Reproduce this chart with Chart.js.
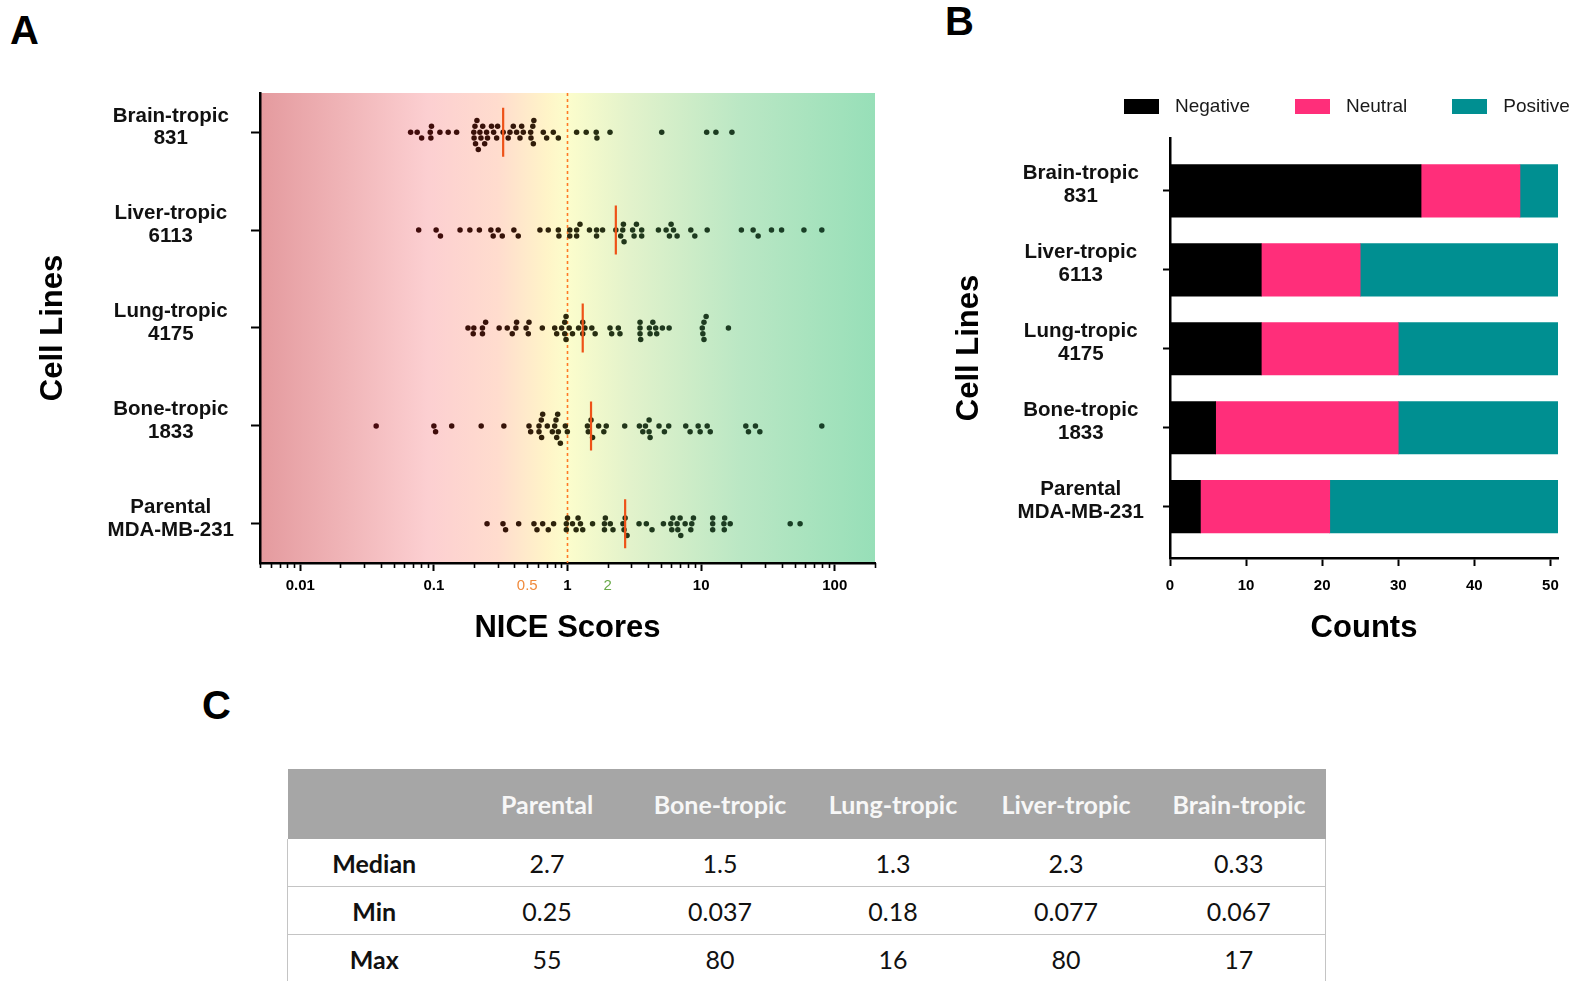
<!DOCTYPE html>
<html>
<head>
<meta charset="utf-8">
<title>NICE scores by cell line</title>
<script src="https://cdn.jsdelivr.net/npm/chart.js@4.4.1/dist/chart.umd.min.js"></script>
<style>
  html, body { margin: 0; padding: 0; background: #fff; width: 1585px; height: 981px; overflow: hidden;
    font-family: "Liberation Sans", Arial, sans-serif; }
  .panel-letter { position: absolute; font-weight: bold; font-size: 40px; line-height: 40px; color: #000; }
  #chartA { position: absolute; left: 0; top: 0; }
  #chartB { position: absolute; left: 900px; top: 0; }
  #legendB { position: absolute; left: 1124px; top: 95px; display: flex; align-items: center;
    font-size: 19px; color: #1a1a1a; white-space: nowrap; }
  .lg-item { display: flex; align-items: center; margin-right: 45px; }
  .lg-box { width: 35px; height: 15px; margin-right: 16px; }
  #tableC { position: absolute; left: 287px; top: 769px; width: 1039px; border-collapse: collapse;
    table-layout: fixed; font-family: Lato, "Open Sans", sans-serif; }
  #tableC th { background: #a6a6a6; color: #f7f7f7; font-weight: 700; font-size: 25px; height: 70px;
    padding: 0; text-align: center; }
  #tableC td { height: 47px; font-size: 25px; text-align: center; padding: 0; color: #111;
    border-bottom: 1px solid #c4c4c4; }
  #tableC td.rowhead { font-weight: 700; }
  #tableC tbody td:first-child { border-left: 1px solid #c4c4c4; }
  #tableC tbody td:last-child { border-right: 1px solid #c4c4c4; }
</style>
</head>
<body>
<div class="panel-letter" style="left:10px;top:10px;">A</div>
<div class="panel-letter" style="left:945px;top:1px;">B</div>
<div class="panel-letter" style="left:202px;top:685px;">C</div>

<canvas id="chartA" width="900" height="660"></canvas>
<canvas id="chartB" width="685" height="660"></canvas>
<div id="legendB"></div>
<table id="tableC"><thead><tr id="tableHead"></tr></thead><tbody id="tableBody"></tbody></table>

<script>
// Cell lines, in table order (Parental first); the charts list them bottom to top.
const cellLines = ['Parental', 'Bone-tropic', 'Lung-tropic', 'Liver-tropic', 'Brain-tropic'];
const axisLabels = [
  ['Parental', 'MDA-MB-231'],
  ['Bone-tropic', '1833'],
  ['Lung-tropic', '4175'],
  ['Liver-tropic', '6113'],
  ['Brain-tropic', '831']
];

// NICE scores per cell line
const scoresParental = [0.25, 0.329, 0.344, 0.431, 0.561, 0.591, 0.652, 0.718, 0.787, 0.98, 0.98, 1.00, 1.09,
  1.16, 1.20, 1.25, 1.30, 1.54, 1.89, 1.89, 1.92, 2.09, 2.19, 2.60, 2.65, 2.7, 2.79, 3.43, 3.89, 4.29, 5.22,
  5.93, 6.03, 6.14, 6.61, 6.69, 6.96, 7.04, 7.59, 8.37, 8.51, 8.76, 12.2, 12.2, 12.2, 14.8, 14.9, 15.0, 16.5,
  46.4, 55];
const scoresBone = [0.037, 0.100, 0.103, 0.136, 0.226, 0.334, 0.515, 0.530, 0.612, 0.612, 0.637, 0.640, 0.652,
  0.706, 0.770, 0.802, 0.820, 0.830, 0.844, 0.854, 0.884, 0.963, 0.997, 1.41, 1.43, 1.5, 1.54, 1.71, 1.87, 1.95,
  2.68, 3.45, 3.66, 3.83, 4.08, 4.08, 4.15, 4.84, 5.31, 5.72, 7.67, 8.27, 9.50, 9.83, 11.1, 11.7, 21.6, 22.6,
  25.5, 27.5, 80];
const scoresLung = [0.18, 0.197, 0.199, 0.231, 0.231, 0.244, 0.308, 0.354, 0.386, 0.411, 0.416, 0.49, 0.509,
  0.515, 0.648, 0.802, 0.830, 0.904, 0.953, 0.953, 0.975, 0.975, 1.03, 1.09, 1.21, 1.3, 1.3, 1.35, 1.52, 1.61,
  2.08, 2.14, 2.40, 2.47, 3.49, 3.49, 3.49, 3.53, 4.10, 4.15, 4.35, 4.57, 4.65, 5.13, 5.76, 10.2, 10.3, 10.5,
  10.5, 10.9, 16];
const scoresLiver = [0.077, 0.104, 0.112, 0.157, 0.186, 0.219, 0.267, 0.278, 0.303, 0.325, 0.397, 0.428, 0.622,
  0.718, 0.854, 0.863, 1.04, 1.04, 1.17, 1.17, 1.24, 1.46, 1.65, 1.65, 1.83, 2.3, 2.50, 2.59, 2.62, 2.65, 3.07,
  3.15, 3.28, 3.59, 3.59, 4.79, 5.47, 5.79, 5.96, 6.21, 6.61, 8.37, 8.97, 11.1, 20.0, 24.5, 26.7, 33.6, 40.0,
  58.8, 80];
const scoresBrain = [0.067, 0.075, 0.081, 0.094, 0.095, 0.096, 0.111, 0.128, 0.148, 0.199, 0.200, 0.203, 0.205,
  0.21, 0.215, 0.221, 0.225, 0.232, 0.24, 0.248, 0.252, 0.27, 0.28, 0.295, 0.300, 0.33, 0.36, 0.371, 0.393,
  0.416, 0.441, 0.454, 0.467, 0.530, 0.533, 0.550, 0.555, 0.560, 0.659, 0.698, 0.783, 0.854, 1.17, 1.38, 1.64,
  1.66, 2.08, 5.07, 11.0, 12.9, 17];

// Summary statistics (table order)
const medianScores = [2.7, 1.5, 1.3, 2.3, 0.33];
const minScores = [0.25, 0.037, 0.18, 0.077, 0.067];
const maxScores = [55, 80, 16, 80, 17];

// Counts per class (table order)
const countCategories = ['Negative', 'Neutral', 'Positive'];
const negativeCounts = [4, 6, 12, 12, 33];
const neutralCounts = [17, 24, 18, 13, 13];
const positiveCounts = [30, 21, 21, 26, 5];

// Axis ticks
const decadeTicks = [0.01, 0.1, 1, 10, 100];
const thresholdTicks = [0.5, 2];
const countTicks = [0, 10, 20, 30, 40, 50];
const baselineScore = 1;

const allScores = [scoresParental, scoresBone, scoresLung, scoresLiver, scoresBrain];
const rowOf = i => cellLines.length - 1 - i;   // Brain-tropic on top
const rowIndices = cellLines.map((_, i) => i);

Chart.defaults.font.family = '"Liberation Sans", Arial, sans-serif';
Chart.defaults.color = '#000';

const black = '#000';
const isDecade = v => decadeTicks.some(d => Math.abs(d - v) < d * 1e-6);
const isThreshold = v => thresholdTicks.some(d => Math.abs(d - v) < d * 1e-6);

function logTickValues(min, max) {
  const out = [];
  for (let e = -3; e <= 3; e++) {
    for (let n = 1; n <= 9; n++) {
      const v = Number((n * Math.pow(10, e)).toPrecision(2));
      if (v >= min * 0.9999 && v <= max * 1.0001) out.push(v);
    }
  }
  return out;
}

// dark dot colour shifting from maroon (low scores) to green (high scores)
function dotColor(v) {
  const t = Math.log10(v);
  const stops = [[-1.5, [74, 8, 14]], [-0.5, [54, 18, 8]], [0, [44, 40, 12]], [0.5, [32, 56, 28]], [2.2, [22, 66, 42]]];
  if (t <= stops[0][0]) return 'rgb(' + stops[0][1].join(',') + ')';
  for (let k = 1; k < stops.length; k++) {
    if (t <= stops[k][0]) {
      const f = (t - stops[k - 1][0]) / (stops[k][0] - stops[k - 1][0]);
      const c = stops[k - 1][1].map((a, j) => Math.round(a + (stops[k][1][j] - a) * f));
      return 'rgb(' + c.join(',') + ')';
    }
  }
  return 'rgb(' + stops[stops.length - 1][1].join(',') + ')';
}

// red → yellow → green wash behind the score axis
const gradientBackdrop = {
  id: 'gradientBackdrop',
  beforeDraw(chart) {
    const { ctx, chartArea: a, scales: { x } } = chart;
    const g = ctx.createLinearGradient(a.left, 0, a.right, 0);
    const stops = [[0.005, '#e49a9e'], [0.09, '#fccfd1'], [0.3, '#ffdcce'], [0.7, '#fff4c8'],
      [1, '#fcfdcc'], [3, '#e2f2cb'], [20, '#bae7c4'], [200, '#97dfb8']];
    stops.forEach(([v, c]) => {
      const f = (x.getPixelForValue(v) - a.left) / (a.right - a.left);
      g.addColorStop(Math.min(1, Math.max(0, f)), c);
    });
    ctx.save();
    ctx.fillStyle = g;
    ctx.fillRect(a.left, a.top, a.right - a.left, a.bottom - a.top);
    ctx.restore();
  }
};

// shorter marks for the non-decade ticks of the log axis
const minorTickMarks = {
  id: 'minorTickMarks',
  afterDraw(chart) {
    const x = chart.scales.x;
    const ctx = chart.ctx;
    ctx.save();
    ctx.strokeStyle = black;
    ctx.lineWidth = 1.6;
    x.ticks.forEach(t => {
      if (isDecade(t.value)) return;
      const px = Math.round(x.getPixelForValue(t.value)) + 0.5;
      ctx.beginPath();
      ctx.moveTo(px, x.top);
      ctx.lineTo(px, x.top + 5);
      ctx.stroke();
    });
    ctx.restore();
  }
};

const scoreMin = 0.005, scoreMax = 200;

const swarmSets = allScores.map((arr, i) => ({
  label: cellLines[i],
  data: arr.map(v => ({ x: v, y: rowOf(i) })),
  pointRadius: 2.75,
  pointHoverRadius: 2.75,
  borderWidth: 0,
  pointBorderWidth: 0,
  pointBackgroundColor: ctx => dotColor(ctx.raw ? ctx.raw.x : 1),
  order: 2
}));

const medianSets = medianScores.map((m, i) => ({
  label: cellLines[i] + ' median',
  data: [{ x: m, y: rowOf(i) - 0.25 }, { x: m, y: rowOf(i) + 0.25 }],
  showLine: true,
  borderColor: '#ee5218',
  borderWidth: 2.2,
  pointRadius: 0,
  order: 0
}));

const baselineSet = {
  label: 'baseline',
  data: [{ x: baselineScore, y: -0.4 }, { x: baselineScore, y: 4.4 }],
  showLine: true,
  borderColor: '#ff7a26',
  borderWidth: 1.6,
  borderDash: [3, 3],
  pointRadius: 0,
  order: 3
};

const chartA = new Chart(document.getElementById('chartA'), {
  type: 'scatter',
  data: { datasets: [baselineSet, ...swarmSets, ...medianSets] },
  plugins: [gradientBackdrop, minorTickMarks],
  options: {
    responsive: false,
    animation: false,
    events: [],
    layout: { padding: { left: 0, top: 93, right: 25, bottom: 0 } },
    plugins: { legend: { display: false }, tooltip: { enabled: false } },
    scales: {
      x: {
        type: 'logarithmic',
        min: scoreMin,
        max: scoreMax,
        afterBuildTicks: s => { s.ticks = logTickValues(scoreMin, scoreMax).map(v => ({ value: v })); },
        afterFit: s => { s.height = 97; },
        border: { display: true, color: black, width: 2.5 },
        grid: {
          display: true, drawOnChartArea: false, tickLength: 8, tickWidth: 2,
          tickColor: c => (c.tick && isDecade(c.tick.value)) ? black : 'rgba(0,0,0,0)'
        },
        ticks: {
          autoSkip: false, maxRotation: 0, minRotation: 0, padding: 6,
          callback: v => (isDecade(v) || isThreshold(v)) ? String(v) : '',
          color: c => !c.tick ? black : (Math.abs(c.tick.value - 0.5) < 1e-9 ? '#f08a3c'
            : (Math.abs(c.tick.value - 2) < 1e-9 ? '#6aaa4a' : black)),
          font: c => (c.tick && isThreshold(c.tick.value)) ? { size: 15, weight: 'normal' } : { size: 15, weight: 'bold' }
        },
        title: {
          display: true, text: 'NICE Scores', color: black,
          font: { size: 31, weight: 'bold' }, padding: { top: 0, bottom: 13 }
        }
      },
      y: {
        type: 'linear',
        min: -0.4,
        max: 4.4,
        reverse: true,
        offset: false,
        afterBuildTicks: s => { s.ticks = rowIndices.map(r => ({ value: r })); },
        afterFit: s => { s.width = 260; },
        border: { display: true, color: black, width: 2.5 },
        grid: { display: true, offset: false, drawOnChartArea: false, tickLength: 9, tickWidth: 2, tickColor: black },
        ticks: {
          autoSkip: false, crossAlign: 'center', padding: 17, labelOffset: -5,
          callback: v => axisLabels[cellLines.length - 1 - v],
          font: { size: 20.5, weight: 'bold', lineHeight: 1.1 },
          color: '#111'
        },
        title: {
          display: true, text: 'Cell Lines', color: black,
          font: { size: 31, weight: 'bold' }, padding: { top: 35, bottom: 0 }
        }
      }
    }
  }
});

// beeswarm: spread equal-looking scores vertically so dots do not overlap
(function layoutSwarm(chart) {
  const xs = chart.scales.x, ys = chart.scales.y;
  const unit = Math.abs(ys.getPixelForValue(1) - ys.getPixelForValue(0));
  const D = 5.8;
  allScores.forEach((arr, i) => {
    const placed = [];
    const pts = arr.map(v => ({ v, px: xs.getPixelForValue(v), dy: 0 })).sort((a, b) => a.px - b.px);
    pts.forEach(p => {
      for (let k = 0; k < 40; k++) {
        const dy = (k % 2 ? 1 : -1) * Math.ceil(k / 2) * D;
        const hit = placed.some(q => (p.px - q.px) ** 2 + (dy - q.dy) ** 2 < D * D - 0.01);
        if (!hit) { p.dy = dy; break; }
      }
      placed.push(p);
    });
    chart.data.datasets[1 + i].data = pts.map(p => ({ x: p.v, y: rowOf(i) + p.dy / unit }));
  });
  chart.update('none');
})(chartA);

// Panel B: stacked counts
const countColors = ['#000000', '#ff2e7a', '#008f91'];
const countSeries = [negativeCounts, neutralCounts, positiveCounts];

new Chart(document.getElementById('chartB'), {
  type: 'bar',
  data: {
    datasets: countSeries.map((series, k) => ({
      label: countCategories[k],
      data: series.map((c, i) => ({ x: c, y: rowOf(i) })),
      backgroundColor: countColors[k],
      borderWidth: 0,
      barThickness: 52.5
    }))
  },
  options: {
    indexAxis: 'y',
    responsive: false,
    animation: false,
    events: [],
    layout: { padding: { left: 0, top: 138, right: 27, bottom: 0 } },
    plugins: { legend: { display: false }, tooltip: { enabled: false } },
    scales: {
      x: {
        type: 'linear',
        stacked: true,
        min: 0,
        max: 51,
        afterBuildTicks: s => { s.ticks = countTicks.map(v => ({ value: v })); },
        afterFit: s => { s.height = 102; },
        border: { display: true, color: black, width: 2.5 },
        grid: { display: true, drawOnChartArea: false, tickLength: 8, tickWidth: 2, tickColor: black },
        ticks: { autoSkip: false, maxRotation: 0, padding: 11, font: { size: 15, weight: 'bold' }, color: black },
        title: {
          display: true, text: 'Counts', color: black,
          font: { size: 31, weight: 'bold' }, padding: { top: 0, bottom: 13 }
        }
      },
      y: {
        type: 'linear',
        stacked: true,
        min: -0.67,
        max: 4.65,
        reverse: true,
        offset: false,
        afterBuildTicks: s => { s.ticks = rowIndices.map(r => ({ value: r })); },
        afterFit: s => { s.width = 270; },
        border: { display: true, color: black, width: 2.5 },
        grid: { display: true, offset: false, drawOnChartArea: false, tickLength: 7, tickWidth: 2, tickColor: black },
        ticks: {
          autoSkip: false, crossAlign: 'center', padding: 19, labelOffset: -6,
          callback: v => axisLabels[cellLines.length - 1 - v],
          font: { size: 20.5, weight: 'bold', lineHeight: 1.1 },
          color: '#111'
        },
        title: {
          display: true, text: 'Cell Lines', color: black,
          font: { size: 31, weight: 'bold' }, padding: { top: 51, bottom: 0 }
        }
      }
    }
  }
});

// Legend for panel B
const legendB = document.getElementById('legendB');
countCategories.forEach((name, k) => {
  const item = document.createElement('div');
  item.className = 'lg-item';
  if (k === countCategories.length - 1) item.style.marginRight = '0';
  const box = document.createElement('span');
  box.className = 'lg-box';
  box.style.background = countColors[k];
  const txt = document.createElement('span');
  txt.textContent = name;
  item.appendChild(box);
  item.appendChild(txt);
  legendB.appendChild(item);
});

// Panel C: summary table
const head = document.getElementById('tableHead');
head.appendChild(document.createElement('th'));
cellLines.forEach(name => {
  const th = document.createElement('th');
  th.textContent = name;
  head.appendChild(th);
});
const body = document.getElementById('tableBody');
[['Median', medianScores], ['Min', minScores], ['Max', maxScores]].forEach(([name, vals]) => {
  const tr = document.createElement('tr');
  const th = document.createElement('td');
  th.className = 'rowhead';
  th.textContent = name;
  tr.appendChild(th);
  vals.forEach(v => {
    const td = document.createElement('td');
    td.textContent = String(v);
    tr.appendChild(td);
  });
  body.appendChild(tr);
});
</script>
</body>
</html>
